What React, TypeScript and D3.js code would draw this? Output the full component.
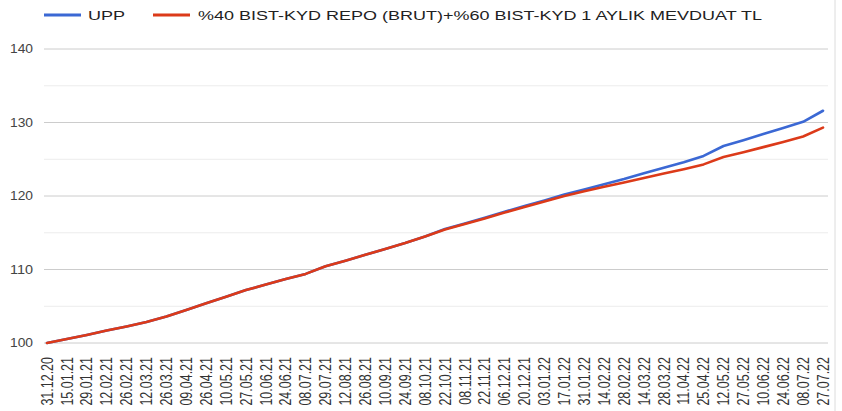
import React from "react";
import { scaleLinear, scalePoint, line } from "d3";

// dates shown on the category axis
const dates = [
  "31.12.20", "15.01.21", "29.01.21", "12.02.21", "26.02.21", "12.03.21", "26.03.21",
  "09.04.21", "26.04.21", "10.05.21", "27.05.21", "10.06.21", "24.06.21", "08.07.21",
  "29.07.21", "12.08.21", "26.08.21", "10.09.21", "24.09.21", "08.10.21", "22.10.21",
  "08.11.21", "22.11.21", "06.12.21", "20.12.21", "03.01.22", "17.01.22", "31.01.22",
  "14.02.22", "28.02.22", "14.03.22", "28.03.22", "11.04.22", "25.04.22", "12.05.22",
  "27.05.22", "10.06.22", "24.06.22", "08.07.22", "27.07.22"
];

const upp = [
  100.0, 100.55, 101.1, 101.7, 102.25, 102.85, 103.6, 104.5, 105.4, 106.3,
  107.2, 107.95, 108.7, 109.4, 110.45, 111.2, 112.0, 112.8, 113.6, 114.5,
  115.5, 116.25, 117.05, 117.85, 118.65, 119.4, 120.2, 120.9, 121.6, 122.3,
  123.1, 123.85, 124.6, 125.45, 126.8, 127.6, 128.45, 129.25, 130.1, 131.6
];

const benchmark = [
  100.0, 100.55, 101.1, 101.7, 102.25, 102.85, 103.6, 104.5, 105.4, 106.3,
  107.2, 107.95, 108.7, 109.4, 110.45, 111.2, 112.0, 112.8, 113.6, 114.5,
  115.45, 116.2, 116.95, 117.75, 118.5, 119.25, 120.0, 120.65, 121.25, 121.85,
  122.45, 123.05, 123.65, 124.3, 125.3, 125.95, 126.65, 127.35, 128.1, 129.3
];

const yTicks = [100, 110, 120, 130, 140];
const yMinor = [105, 115, 125, 135];

const series = [
  { name: "UPP", values: upp, color: "#3b68d4" },
  { name: "%40 BIST-KYD REPO (BRUT)+%60 BIST-KYD 1 AYLIK MEVDUAT TL", values: benchmark, color: "#dc3a19" }
];

const W = 842;
const H = 411;
const font = "Arial, 'Liberation Sans', sans-serif";

const App = () => {
  const x = scalePoint<string>().domain(dates).range([47, 823]);
  const y = scaleLinear().domain([100, 140]).range([343, 49]);

  const lineGen = line<number>()
    .x((d, i) => x(dates[i]) as number)
    .y(d => y(d));

  return (
    <svg width={W} height={H} style={{ position: "absolute", left: 0, top: 0, background: "#fff" }}>
      {/* minor gridlines */}
      {yMinor.map(t => (
        <line key={"m" + t} x1={44} x2={828} y1={y(t)} y2={y(t)} stroke="#ececec" strokeWidth={1} />
      ))}
      {/* major gridlines + labels */}
      {yTicks.map(t => (
        <g key={t}>
          <line x1={44} x2={828} y1={y(t)} y2={y(t)} stroke="#cccccc" strokeWidth={1} />
          <text x={33} y={y(t)} dy="0.35em" textAnchor="end" fontFamily={font} fontSize={12.5}
            fill="#444" textLength={23} lengthAdjust="spacingAndGlyphs">{t}</text>
        </g>
      ))}

      {/* right frame edge */}
      <line x1={835} x2={835} y1={0} y2={H} stroke="#dcdcdc" strokeWidth={1} />

      {/* lines */}
      {series.map(s => (
        <path key={s.name} d={lineGen(s.values) || ""} fill="none" stroke={s.color}
          strokeWidth={2.6} strokeLinejoin="round" strokeLinecap="round" />
      ))}

      {/* x labels */}
      {dates.map(d => (
        <text key={d} transform={`translate(${x(d)},357) scale(1.3,1) rotate(-90)`} textAnchor="end"
          dy="0.35em" fontFamily={font} fontSize={12.5} fill="#333">{d}</text>
      ))}

      {/* legend */}
      <g>
        <line x1={44} x2={81} y1={15} y2={15} stroke={series[0].color} strokeWidth={3} />
        <text x={88} y={20} fontFamily={font} fontSize={13.5} fill="#222" textLength={37}
          lengthAdjust="spacingAndGlyphs">{series[0].name}</text>
        <line x1={153} x2={190} y1={15} y2={15} stroke={series[1].color} strokeWidth={3} />
        <text x={198} y={20} fontFamily={font} fontSize={13.5} fill="#222" textLength={564}
          lengthAdjust="spacingAndGlyphs">{series[1].name}</text>
      </g>
    </svg>
  );
};

export default App;
